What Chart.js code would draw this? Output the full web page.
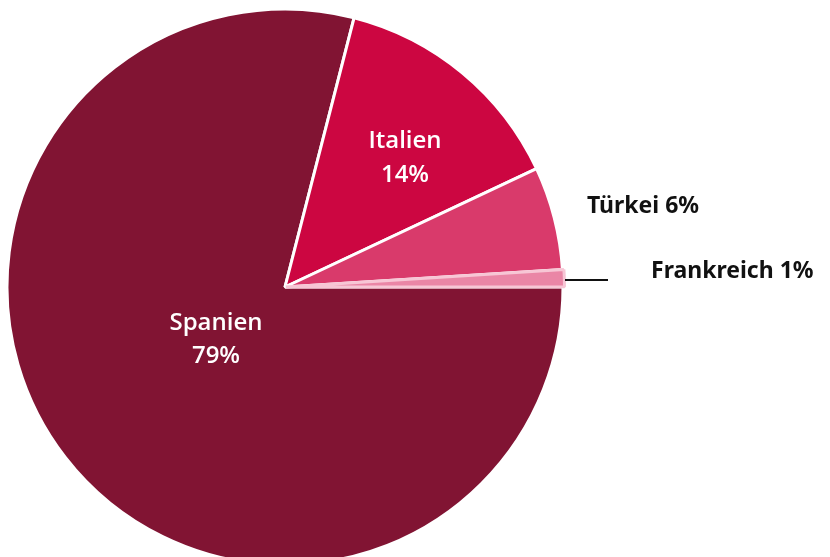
<!DOCTYPE html>
<html>
<head>
<meta charset="utf-8">
<script src="https://cdn.jsdelivr.net/npm/chart.js@4"></script>
<style>
    html, body { margin: 0; padding: 0; background: #fff; overflow: hidden; }
    #wrap { position: relative; width: 830px; height: 562px; }
</style>
</head>
<body>
<div id="wrap"><canvas id="pieChart"></canvas></div>
<script>
// Data
const countries = ['Spanien', 'Italien', 'Türkei', 'Frankreich'];
const shares = [79, 14, 6, 1];
const sliceColors = ['#811433', '#cc0641', '#d93a6b', '#ea86a6'];

// label placement: white labels inside, black bold labels outside
function drawLabels(chart) {
    const ctx = chart.ctx;
    ctx.save();
    ctx.textAlign = 'center';
    ctx.textBaseline = 'middle';
    ctx.fillStyle = '#ffffff';
    ctx.font = '600 24px "Open Sans", sans-serif';

    // inside labels
    ctx.fillText(countries[0], 216, 323);
    ctx.fillText(shares[0] + '%', 216, 356);
    ctx.fillText(countries[1], 405, 141);
    ctx.fillText(shares[1] + '%', 405, 175);

    // outside labels
    ctx.fillStyle = '#111111';
    ctx.textAlign = 'left';
    ctx.font = 'bold 23px "Noto Sans", sans-serif';
    ctx.fillText(countries[2] + ' ' + shares[2] + '%', 587, 206);
    ctx.fillText(countries[3] + ' ' + shares[3] + '%', 651, 271);

    // leader line for Frankreich
    ctx.strokeStyle = '#111111';
    ctx.lineWidth = 1.8;
    ctx.beginPath();
    ctx.moveTo(565, 280);
    ctx.lineTo(608, 280);
    ctx.stroke();
    ctx.restore();
}

const pieCtx = document.getElementById('pieChart').getContext('2d');
const pieChart = new Chart(pieCtx, {
    type: 'pie',
    data: {
        labels: countries,
        datasets: [{
            data: shares,
            backgroundColor: sliceColors,
            borderColor: ['#ffffff', '#ffffff', '#ffffff', '#f7c6d5'],
            borderWidth: 3,
            offset: [0, 0, 0, 3]
        }]
    },
    options: {
        responsive: true,
        maintainAspectRatio: false,
        animation: false,
        rotation: 90,
        radius: 278,
        layout: {
            padding: { left: 10, top: 12, right: 270, bottom: 0 }
        },
        plugins: {
            legend: { display: false },
            tooltip: { enabled: false }
        }
    },
    plugins: [{
        id: 'sliceLabels',
        afterDatasetsDraw: drawLabels
    }]
});
</script>
</body>
</html>
